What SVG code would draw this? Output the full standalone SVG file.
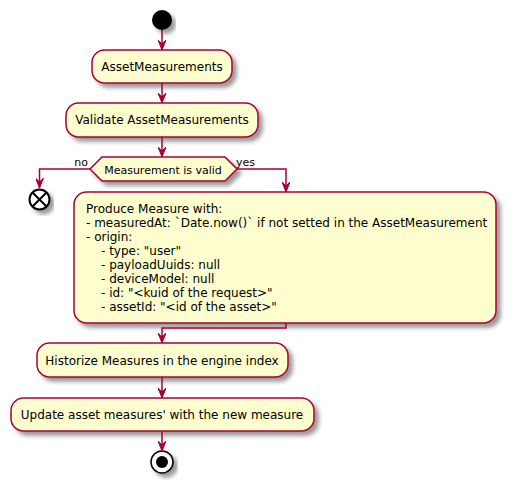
<svg xmlns="http://www.w3.org/2000/svg" width="512" height="489" viewBox="0 0 512 489">
<style>
.box{fill:#FEFECE;stroke:#A80036;stroke-width:1.5;filter:url(#sh)}
.t{font-family:"DejaVu Sans",sans-serif;font-size:12px;fill:#000}
.s{font-family:"DejaVu Sans",sans-serif;font-size:11px;fill:#000}
.ln{fill:none;stroke:#A80036;stroke-width:1.5;marker-end:url(#ah)}
</style>
<defs>
<filter id="sh" x="-10%" y="-10%" width="130%" height="140%">
<feGaussianBlur in="SourceAlpha" stdDeviation="2"/>
<feOffset dx="4" dy="4" result="b"/>
<feColorMatrix in="b" type="matrix" values="0 0 0 0 0  0 0 0 0 0  0 0 0 0 0  0 0 0 0.4 0"/>
<feMerge><feMergeNode/><feMergeNode in="SourceGraphic"/></feMerge>
</filter>
<marker id="ah" markerUnits="userSpaceOnUse" markerWidth="10" markerHeight="8" refX="10" refY="4" orient="auto" viewBox="0 0 10 8">
<path d="M0,0 L10,4 L0,8 L4,4 Z" fill="#A80036" stroke="#A80036" stroke-width="1"/>
</marker>
</defs>
<g id="start"><circle cx="162" cy="20" r="10" fill="#000" filter="url(#sh)"/></g>
<g id="n1"><rect class="box" x="92" y="50" width="140" height="33" rx="12.5"/><text class="t" x="162" y="71" text-anchor="middle">AssetMeasurements</text></g>
<g id="n2"><rect class="box" x="66" y="103" width="192" height="34" rx="12.5"/><text class="t" x="162" y="124" text-anchor="middle">Validate AssetMeasurements</text></g>
<g id="d1"><polygon class="box" points="90,169 102,157 225,157 237,169 225,181 102,181"/><text class="s" x="163" y="174" text-anchor="middle">Measurement is valid</text>
<text class="s" x="88" y="166" text-anchor="end">no</text><text class="s" x="236" y="166">yes</text></g>
<g id="kill"><circle cx="39.5" cy="199.5" r="10" fill="#fff" stroke="#000" stroke-width="2" filter="url(#sh)"/><path d="M33,193 L46,206 M46,193 L33,206" stroke="#000" stroke-width="2"/></g>
<g id="n3"><rect class="box" x="74" y="192" width="422" height="131" rx="12.5"/>
<text class="t" x="86" y="213">Produce Measure with:</text>
<text class="t" x="86" y="227">- measuredAt: `Date.now()` if not setted in the AssetMeasurement</text>
<text class="t" x="86" y="241">- origin:</text>
<text class="t" x="101" y="255">- type: "user"</text>
<text class="t" x="101" y="269">- payloadUuids: null</text>
<text class="t" x="101" y="283">- deviceModel: null</text>
<text class="t" x="101" y="297">- id: "&lt;kuid of the request&gt;"</text>
<text class="t" x="101" y="311">- assetId: "&lt;id of the asset&gt;"</text></g>
<g id="n4"><rect class="box" x="37" y="343" width="251" height="34" rx="12.5"/><text class="t" x="162" y="365" text-anchor="middle">Historize Measures in the engine index</text></g>
<g id="n5"><rect class="box" x="11" y="398" width="303" height="33" rx="12.5"/><text class="t" x="162" y="419" text-anchor="middle">Update asset measures' with the new measure</text></g>
<g id="stop"><circle cx="162" cy="462" r="11" fill="#fff" stroke="#000" stroke-width="1.5" filter="url(#sh)"/><circle cx="162" cy="462" r="6" fill="#000"/></g>
<g id="connectors">
<path class="ln" d="M162,30 L162,50"/>
<path class="ln" d="M162,83 L162,103"/>
<path class="ln" d="M162,137 L162,157"/>
<path class="ln" d="M90,169 L39.5,169 L39.5,188"/>
<path class="ln" d="M237,169 L286,169 L286,192"/>
<path class="ln" d="M286,323 L286,328 L162,328 L162,343"/>
<path class="ln" d="M162,377 L162,398"/>
<path class="ln" d="M162,431 L162,451"/>
</g>
</svg>
